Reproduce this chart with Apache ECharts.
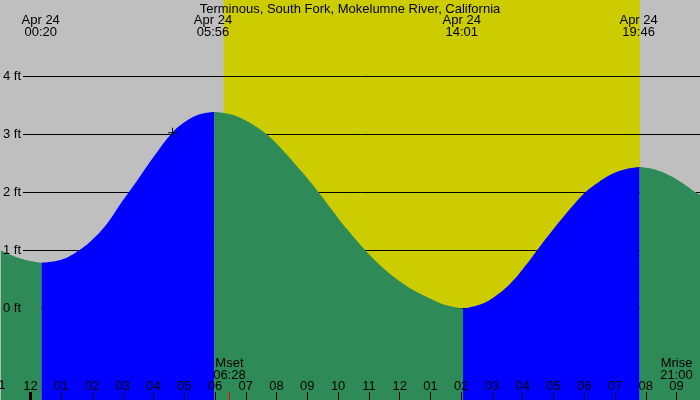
<!DOCTYPE html>
<html><head><meta charset="utf-8">
<script src="https://cdn.jsdelivr.net/npm/echarts@6/dist/echarts.min.js"></script>
<style>html,body{margin:0;padding:0;background:#bfbfbf}#c{width:700px;height:400px}</style>
</head><body><div id="c"></div>
<script>
// ---------- data ----------
const chartTitle = 'Terminous, South Fork, Mokelumne River, California';
const tideDate = 'Apr 24';
const tideTimes = ['00:20', '05:56', '14:01', '19:46'];
const tideHours = [0.333, 5.933, 14.017, 19.767];
const sunriseHour = 6.28;
const sunsetHour = 19.81;
const moonNames = ['Mset', 'Mrise'];
const moonTimes = ['06:28', '21:00'];
const moonHours = [6.467, 21.0];
const hourTicks = [-1,0,1,2,3,4,5,6,7,8,9,10,11,12,13,14,15,16,17,18,19,20,21];
const hourLabels = ['11','12','01','02','03','04','05','06','07','08','09','10','11','12','01','02','03','04','05','06','07','08','09'];
const ftTicks = [0, 1, 2, 3, 4];
const nowPoint = [4.62, 3.04];
// tide height readings [hour, ft], split by falling (green) / rising (blue)
const fallA = [[-0.96,1.0],[-0.47,0.89],[0.0,0.82],[0.36,0.79]];
const riseA = [[0.36,0.79],[1.0,0.84],[1.57,1.0],[2.0,1.18],[2.5,1.47],[3.0,1.86],[3.5,2.23],[4.0,2.61],[4.56,3.0],[5.0,3.21],[5.5,3.35],[5.97,3.39]];
const fallB = [[5.97,3.39],[6.5,3.35],[7.0,3.24],[7.68,3.0],[8.2,2.73],[8.8,2.37],[9.37,2.0],[9.8,1.70],[10.3,1.36],[10.89,1.0],[11.5,0.68],[12.0,0.47],[12.5,0.3],[13.0,0.17],[13.5,0.06],[14.06,0.0]];
const riseB = [[14.06,0.0],[14.62,0.07],[15.05,0.19],[15.6,0.43],[16.14,0.77],[16.46,1.0],[16.79,1.23],[17.4,1.63],[18.03,2.0],[18.5,2.19],[18.95,2.33],[19.4,2.41],[19.8,2.44]];
const fallC = [[19.8,2.44],[20.2,2.41],[20.68,2.32],[21.2,2.16],[21.6,2.01],[21.8,1.95]];

// ---------- layout ----------
const W = 700, H = 400;
const HOUR0_PX = 29.5, PX_PER_HOUR = 30.81;
const FT0_PX = 308.5, PX_PER_FT = 58;
const xMin = -HOUR0_PX / PX_PER_HOUR, xMax = (W - HOUR0_PX) / PX_PER_HOUR;
const yMax = FT0_PX / PX_PER_FT, yMin = (FT0_PX - H) / PX_PER_FT;
const pxToFt = p => (FT0_PX - p) / PX_PER_FT;
const pxToHour = p => (p - HOUR0_PX) / PX_PER_HOUR;
const hourToPx = h => HOUR0_PX + h * PX_PER_HOUR;
const FONT = 'Liberation Sans';
const FS = 13;
const GREEN = '#2e8b57', BLUE = '#0000ff', YELLOW = '#cccc00';

function tideSeries(data, color) {
  return {
    type: 'line', data: data, smooth: 0.4, showSymbol: false,
    lineStyle: { width: 0 }, areaStyle: { color: color, opacity: 1, origin: 'start' },
    silent: true, z: 3, animation: false
  };
}
const tickTop = pxToFt(392);
const inRange = hourTicks.filter(h => h >= xMin);
const outRange = hourTicks.filter(h => h < xMin);
const chart = echarts.init(document.getElementById('c'), null, { renderer: 'canvas' });
chart.setOption({
  animation: false,
  backgroundColor: '#bfbfbf',
  textStyle: { fontFamily: FONT },
  title: { text: chartTitle, left: 'center', top: -2,
    textStyle: { fontFamily: FONT, fontSize: FS, fontWeight: 'normal', color: '#000' } },
  grid: { left: 0, right: 0, top: 0, bottom: 0 },
  graphic: outRange.map(h => ({ type: 'text', x: hourToPx(h), y: 385, z: 10, silent: true,
    style: { text: hourLabels[hourTicks.indexOf(h)], fill: '#000', font: FS + 'px "' + FONT + '"', align: 'center', verticalAlign: 'middle' } })),
  xAxis: [{
    type: 'value', min: xMin, max: xMax, position: 'bottom', z: 10,
    axisLine: { show: false, onZero: false }, splitLine: { show: false },
    axisTick: { show: true, inside: true, length: 8, customValues: inRange, lineStyle: { color: '#000', width: 1 } },
    axisLabel: { show: true, inside: true, margin: 7, customValues: inRange, color: '#000', fontSize: FS, fontFamily: FONT,
      formatter: v => hourLabels[hourTicks.indexOf(Math.round(v))] }
  }, {
    type: 'value', min: xMin, max: xMax, position: 'top', z: 10,
    axisLine: { show: false, onZero: false }, splitLine: { show: false }, axisTick: { show: false },
    axisLabel: { show: true, inside: true, margin: 14, customValues: tideHours, color: '#000', fontSize: FS, fontFamily: FONT, lineHeight: 12,
      formatter: v => tideDate + '\n' + tideTimes[tideHours.indexOf(v)] }
  }],
  yAxis: {
    type: 'value', min: yMin, max: yMax, z: 10,
    axisLine: { show: false, onZero: false }, splitLine: { show: false }, axisTick: { show: false },
    axisLabel: { show: true, inside: true, margin: 2, customValues: ftTicks, color: '#000', fontSize: FS, fontFamily: FONT,
      formatter: v => v + ' ft' }
  },
  series: [
    { type: 'line', data: [], z: 1, silent: true,
      markArea: { silent: true, z: 1, itemStyle: { color: YELLOW, opacity: 1 },
        data: [[{ xAxis: sunriseHour, yAxis: yMin }, { xAxis: sunsetHour, yAxis: yMax }]] },
      markLine: { silent: true, z: 2, symbol: 'none', animation: false, label: { show: false },
        lineStyle: { color: '#000', width: 1, type: 'solid' },
        data: ftTicks.map(v => [{ coord: [pxToHour(22), v] }, { coord: [xMax, v] }]) }
    },
    tideSeries(fallA, GREEN),
    tideSeries(riseA, BLUE),
    tideSeries(fallB, GREEN),
    tideSeries(riseB, BLUE),
    tideSeries(fallC, GREEN),
    { type: 'scatter', data: [nowPoint], z: 6, silent: true, symbolSize: 9,
      symbol: 'path://M0,4.5H9V5.5H0Z M4,0H5V9H4Z', itemStyle: { color: '#000', opacity: 1 } },
    { type: 'line', data: [], z: 6, silent: true,
      markLine: { silent: true, z: 6, symbol: 'none', animation: false, label: { show: false },
        data: [[{ coord: [0, tickTop], lineStyle: { color: '#000', width: 3, type: 'solid' } }, { coord: [0, yMin] }]]
          .concat(moonHours.map(h => [{ coord: [h, tickTop], lineStyle: { color: '#ff0000', width: 1, type: 'solid' } }, { coord: [h, yMin] }])) },
      markPoint: { silent: true, z: 6, symbol: 'rect', symbolSize: 0, animation: false,
        label: { show: true, color: '#000', fontSize: FS, fontFamily: FONT, lineHeight: 12, position: 'inside' },
        data: moonHours.map((h, i) => ({ coord: [h, pxToFt(369)],
          label: { formatter: moonNames[i] + '\n' + moonTimes[i] } })) }
    }
  ]
});
</script></body></html>
